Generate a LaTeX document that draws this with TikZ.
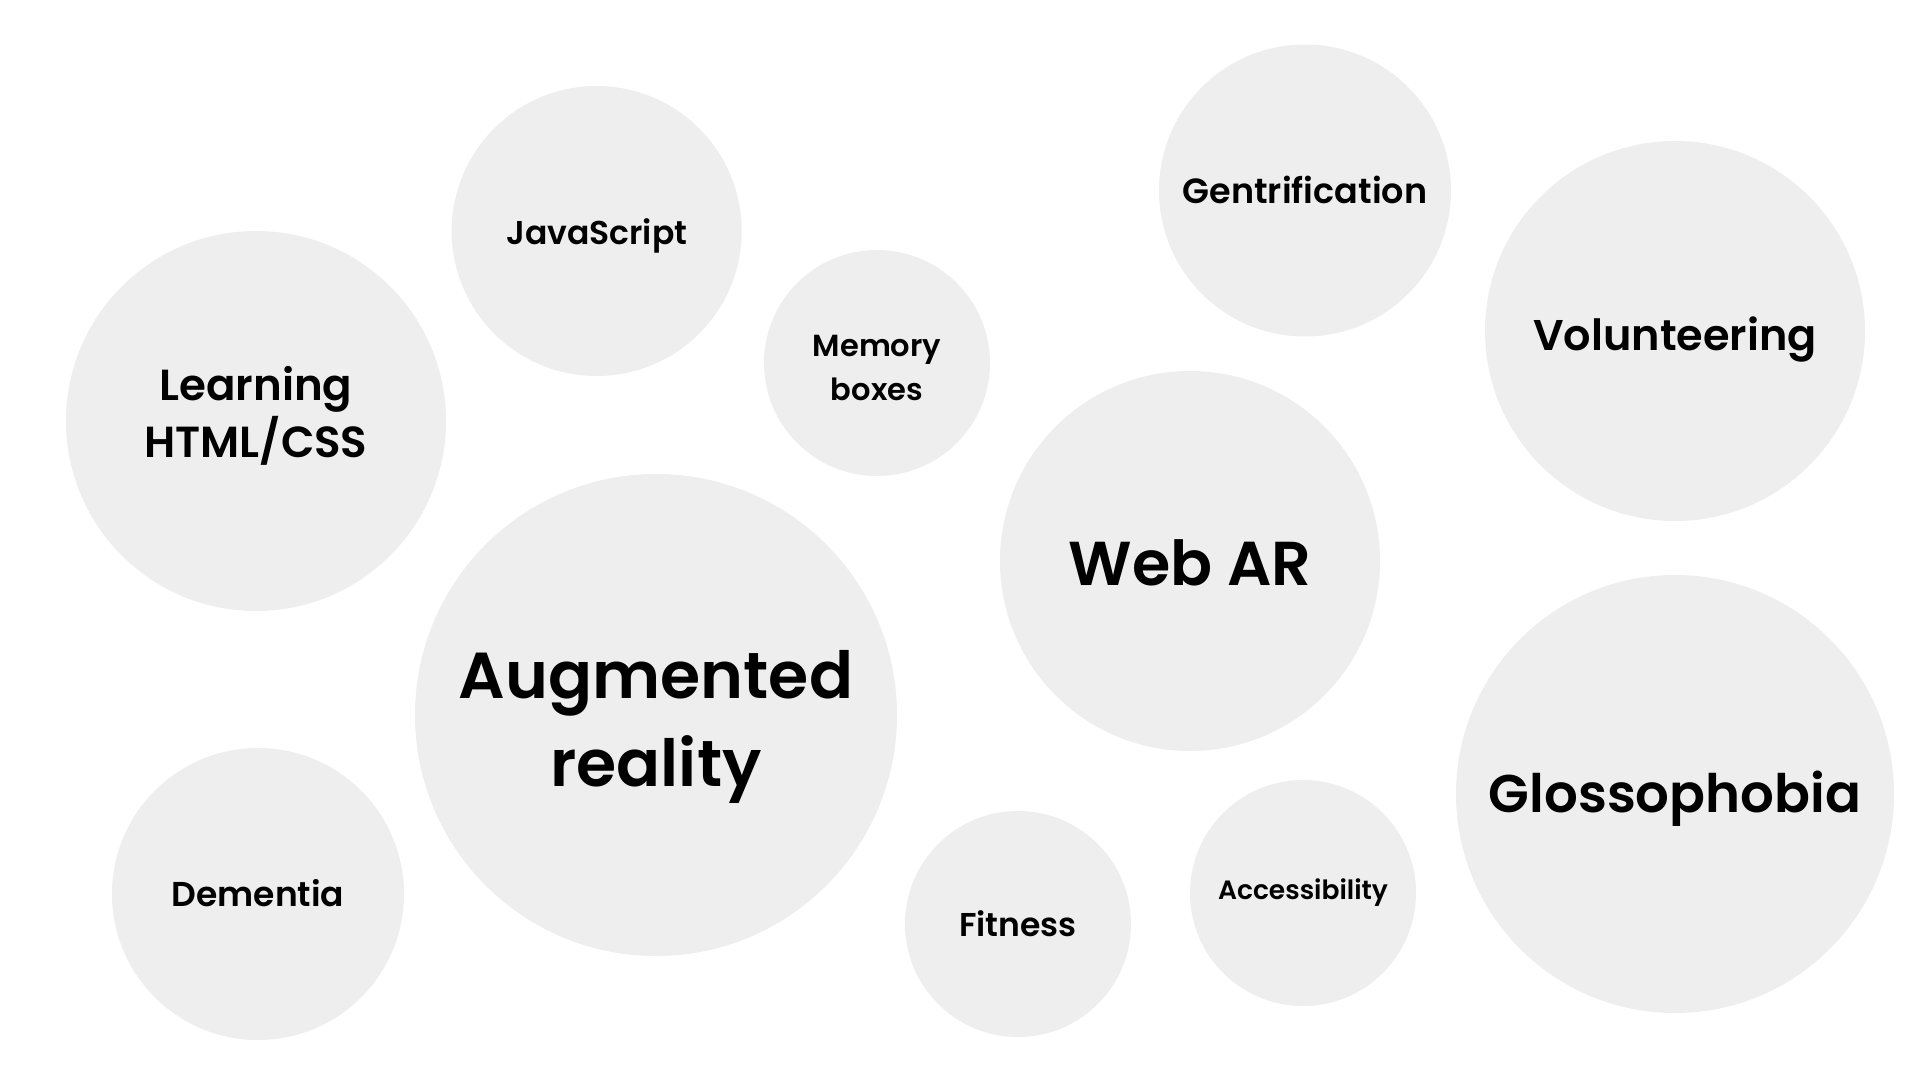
\documentclass[tikz,border=0pt]{standalone}
\usepackage{fontspec}
\setmainfont{Poppins}[UprightFont=* SemiBold]
\definecolor{bubble}{HTML}{EEEEEE}
\tikzset{
  bub/.style={circle, fill=bubble, draw=none, inner sep=0pt, minimum size=#1},
  lbl/.style={anchor=base, inner sep=0pt, text=black, font=\fontsize{#1}{#1}\selectfont},
}
\begin{document}
\begin{tikzpicture}[x=1pt,y=-1pt]
\fill[white] (0,0) rectangle (1920,1080);
\useasboundingbox (0,0) rectangle (1920,1080);
% bubbles
\node[bub=290] (js) at (596.7,231) {};
\node[bub=380] (html) at (256,421) {};
\node[bub=226] (mem) at (877,363) {};
\node[bub=292] (gen) at (1305,190.5) {};
\node[bub=380] (vol) at (1675,331) {};
\node[bub=380] (war) at (1190,561) {};
\node[bub=482] (ar) at (656,715) {};
\node[bub=292] (dem) at (258,894) {};
\node[bub=226] (fit) at (1018,924) {};
\node[bub=226] (acc) at (1303,893) {};
\node[bub=438] (glo) at (1675,794) {};
% labels
\node[lbl=33] (tjs) at (596.7,244.3) {JavaScript};
\node[lbl=43.5] (thtmlA) at (256,400) {Learning};
\node[lbl=43.5] (thtmlB) at (256,457.3) {HTML/CSS};
\node[lbl=30.5] (tmemA) at (877,356.7) {Memory};
\node[lbl=30.5] (tmemB) at (877,400.7) {boxes};
\node[lbl=35] (tgen) at (1305,203.3) {Gentrification};
\node[lbl=43] (tvol) at (1675,350) {Volunteering};
\node[lbl=62] (twar) at (1190,585) {Web AR};
\node[lbl=65] (tarA) at (656,698.7) {Augmented};
\node[lbl=65] (tarB) at (656,786) {reality};
\node[lbl=34.5] (tdem) at (258,906.7) {Dementia};
\node[lbl=33] (tfit) at (1018,936.7) {Fitness};
\node[lbl=26.5] (tacc) at (1303,899.3) {Accessibility};
\node[lbl=53] (tglo) at (1675,812.7) {Glossophobia};
\end{tikzpicture}
\end{document}
